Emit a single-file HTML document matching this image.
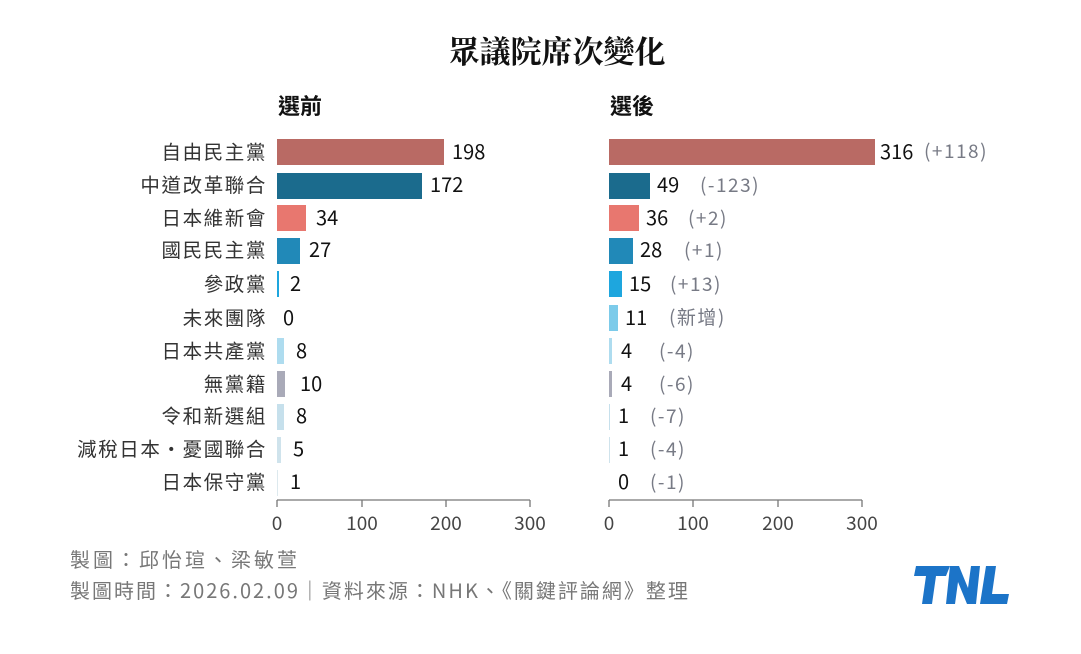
<!DOCTYPE html>
<html><head><meta charset="utf-8"><style>
body{margin:0;background:#fff;}
svg text{font-family:"Noto Sans CJK TC","Liberation Sans",sans-serif;}
</style></head><body>
<svg width="1081" height="649" viewBox="0 0 1081 649" xmlns="http://www.w3.org/2000/svg">
<rect width="1081" height="649" fill="#fff"/>
<text x="557" y="63" text-anchor="middle" font-size="31" font-weight="bold" style="font-family:'Noto Serif CJK SC','Liberation Serif',serif" fill="#111">眾議院席次變化</text>
<text x="278" y="114" font-size="22" font-weight="bold" fill="#111">選前</text>
<text x="610" y="114" font-size="22" font-weight="bold" fill="#111">選後</text>
<g font-size="19.5" fill="#333" text-anchor="end" letter-spacing="1.6">
<text x="267" y="159">自由民主黨</text>
<text x="267" y="192">中道改革聯合</text>
<text x="267" y="225">日本維新會</text>
<text x="267" y="257">國民民主黨</text>
<text x="267" y="291">參政黨</text>
<text x="267" y="325">未來團隊</text>
<text x="267" y="358">日本共產黨</text>
<text x="267" y="391">無黨籍</text>
<text x="267" y="423">令和新選組</text>
<text x="267" y="456">減稅日本・憂國聯合</text>
<text x="267" y="489">日本保守黨</text>
</g>
<g>
<rect x="277" y="139" width="167" height="26" fill="#b96a64"/>
<rect x="277" y="173" width="145" height="26" fill="#1b6b8d"/>
<rect x="277" y="205" width="29" height="26" fill="#e8776f"/>
<rect x="277" y="238" width="23" height="26" fill="#2189b8"/>
<rect x="277" y="271" width="2" height="26" fill="#1ea6de"/>
<rect x="277" y="338" width="7" height="26" fill="#aedcef"/>
<rect x="277" y="371" width="8" height="26" fill="#a9aab8"/>
<rect x="277" y="404" width="7" height="26" fill="#c6e0ec"/>
<rect x="277" y="437" width="4" height="26" fill="#cfe3ec"/>
<rect x="277" y="470" width="1" height="26" fill="#dde9ee"/>
</g>
<g font-size="20" fill="#111">
<text x="452" y="159">198</text>
<text x="430" y="192">172</text>
<text x="316" y="225">34</text>
<text x="309" y="257">27</text>
<text x="290" y="291">2</text>
<text x="283" y="325">0</text>
<text x="296" y="358">8</text>
<text x="300" y="391">10</text>
<text x="296" y="423">8</text>
<text x="293" y="456">5</text>
<text x="290" y="489">1</text>
</g>
<g>
<rect x="609" y="139" width="266" height="26" fill="#b96a64"/>
<rect x="609" y="173" width="41" height="26" fill="#1b6b8d"/>
<rect x="609" y="205" width="30" height="26" fill="#e8776f"/>
<rect x="609" y="238" width="24" height="26" fill="#2189b8"/>
<rect x="609" y="271" width="13" height="26" fill="#1ea6de"/>
<rect x="609" y="305" width="9" height="26" fill="#7ccbea"/>
<rect x="609" y="338" width="3" height="26" fill="#aedcef"/>
<rect x="609" y="371" width="3" height="26" fill="#a9aab8"/>
<rect x="609" y="404" width="1" height="26" fill="#c6e0ec"/>
<rect x="609" y="437" width="1" height="26" fill="#cfe3ec"/>
</g>
<g font-size="20" fill="#111">
<text x="880" y="159">316</text>
<text x="657" y="192">49</text>
<text x="646" y="225">36</text>
<text x="640" y="257">28</text>
<text x="629" y="291">15</text>
<text x="625" y="325">11</text>
<text x="621" y="358">4</text>
<text x="621" y="391">4</text>
<text x="618" y="423">1</text>
<text x="618" y="456">1</text>
<text x="618" y="489">0</text>
</g>
<g font-size="19" fill="#777a85" letter-spacing="1.5">
<text x="924" y="158">(+118)</text>
<text x="700" y="192">(-123)</text>
<text x="688" y="225">(+2)</text>
<text x="684" y="257">(+1)</text>
<text x="670" y="291">(+13)</text>
<text x="669" y="324">(新增)</text>
<text x="659" y="358">(-4)</text>
<text x="659" y="391">(-6)</text>
<text x="650" y="423">(-7)</text>
<text x="650" y="456">(-4)</text>
<text x="650" y="489">(-1)</text>
</g>
<g stroke="#777" stroke-width="1.3" fill="none">
<path d="M277 500H530M277 500v7M362 500v7M446 500v7M530 500v7"/>
<path d="M609 500H862M609 500v7M693 500v7M778 500v7M862 500v7"/>
</g>
<g font-size="19" fill="#444" text-anchor="middle">
<text x="277" y="530">0</text><text x="362" y="530">100</text><text x="446" y="530">200</text><text x="530" y="530">300</text>
<text x="609" y="530">0</text><text x="693" y="530">100</text><text x="778" y="530">200</text><text x="862" y="530">300</text>
</g>
<g font-size="20" fill="#777">
<text x="70" y="567" letter-spacing="3">製圖：邱怡瑄、梁敏萱</text>
<text x="70" y="598" letter-spacing="2">製圖時間：2026.02.09｜資料來源：NHK、《關鍵評論網》整理</text>
</g>
<g fill="#1c74c8">
<polygon points="916,566 950,566 946,576 936,576 932,604 922,604 926,576 914,576"/>
<polygon points="950,566 959,566 968,588 971,566 980,566 976,604 967,604 958,582 955,604 946,604"/>
<polygon points="986,566 996,566 992,594 1009,594 1007,604 980,604"/>
</g>
</svg>
</body></html>
